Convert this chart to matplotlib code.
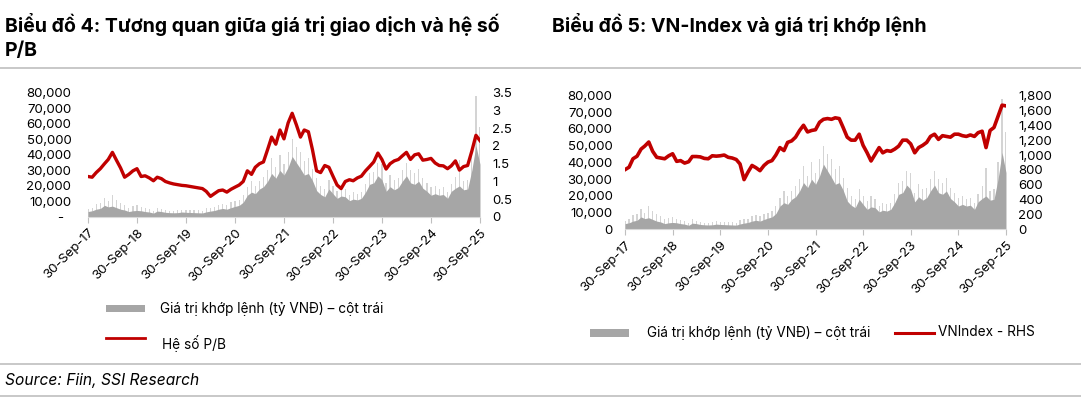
import matplotlib
matplotlib.use('Agg')
import matplotlib.pyplot as plt
import pandas as pd
from matplotlib.ticker import FixedLocator, FixedFormatter
from matplotlib.patches import Rectangle
from matplotlib.lines import Line2D

plt.rcParams['font.family'] = ['Inter', 'DejaVu Sans']

# ---------------- data (monthly, Sep-2017 .. Sep-2025) ----------------
start = pd.Timestamp('2017-09-30')
n_months = 97
months = [start + pd.offsets.MonthEnd(i) for i in range(n_months)]

# matched trading value (bn VND): monthly typical level and monthly peak day
vol_avg = [3500, 4000, 5000, 5500, 7500, 6500, 7000, 6000, 5000, 4500, 3500, 4000,
           4200, 4000, 3500, 3200, 2500, 3800, 3500, 3000, 2800, 2700, 2800, 3200,
           3000, 2900, 2800, 2700, 2600, 3300, 3800, 4200, 5000, 5500, 5000, 6000,
           6800, 7500, 9500, 14000, 16000, 15000, 18000, 19500, 23000, 28000, 25000, 30000,
           27000, 32000, 39000, 35000, 31000, 27000, 28000, 23500, 17000, 14500, 13000, 18000,
           15000, 12000, 13500, 13000, 10500, 11500, 11000, 12000, 16000, 21000, 22000, 26500,
           24000, 16500, 19500, 17500, 19000, 23000, 26500, 22000, 21000, 23000, 18500, 16500,
           14000, 15000, 14000, 14500, 12000, 16500, 18500, 20000, 17500, 18000, 30000, 46000,
           34000]
vol_peak = [5000, 6000, 8500, 9000, 12000, 10000, 14000, 11000, 9000, 8000, 6000, 7000,
            7500, 6500, 5500, 5000, 4000, 6000, 5000, 4500, 4000, 4000, 4200, 4800,
            4500, 4300, 4200, 4200, 4000, 5500, 6000, 6500, 8000, 8500, 8000, 9500,
            10000, 11000, 14000, 19000, 23000, 20000, 23000, 26000, 30000, 38000, 32000, 40000,
            34000, 42000, 50000, 45000, 42000, 36000, 38000, 31000, 25000, 20000, 18000, 24000,
            20000, 17000, 20000, 18000, 14000, 16000, 15000, 16000, 21000, 28000, 29000, 35000,
            34000, 22000, 27000, 24000, 25000, 30000, 35000, 30000, 28000, 31000, 25000, 22000,
            19000, 20000, 18000, 19000, 16000, 21000, 26000, 37000, 23000, 24000, 40000, 78000,
            58000]

# P/B ratio
pb = [1.14, 1.12, 1.25, 1.36, 1.50, 1.62, 1.82, 1.60, 1.38, 1.12, 1.20, 1.30,
      1.36, 1.14, 1.16, 1.10, 1.02, 1.12, 1.08, 1.00, 0.96, 0.93, 0.91, 0.89,
      0.88, 0.86, 0.84, 0.82, 0.80, 0.72, 0.58, 0.66, 0.74, 0.76, 0.70, 0.78,
      0.84, 0.90, 1.00, 1.30, 1.20, 1.40, 1.50, 1.55, 1.90, 2.25, 2.05, 2.45,
      2.20, 2.65, 2.92, 2.60, 2.25, 2.45, 2.40, 1.90, 1.30, 1.25, 1.45, 1.40,
      1.15, 0.90, 0.80, 1.00, 1.05, 1.02, 1.10, 1.15, 1.30, 1.42, 1.55, 1.80,
      1.62, 1.35, 1.50, 1.58, 1.62, 1.72, 1.82, 1.62, 1.75, 1.78, 1.60, 1.62,
      1.65, 1.52, 1.45, 1.44, 1.36, 1.44, 1.58, 1.32, 1.42, 1.45, 1.85, 2.30,
      2.15]

# VN-Index
vnindex = [804, 837, 950, 984, 1080, 1120, 1175, 1050, 970, 960, 950, 990,
           1017, 915, 925, 892, 910, 980, 980, 975, 955, 950, 990, 985,
           990, 1000, 970, 960, 940, 880, 670, 770, 860, 830, 790, 860,
           905, 925, 1000, 1100, 1060, 1170, 1190, 1240, 1330, 1400, 1310, 1330,
           1340, 1440, 1480, 1490, 1480, 1500, 1490, 1370, 1240, 1200, 1200, 1280,
           1130, 1030, 920, 1010, 1100, 1030, 1060, 1050, 1080, 1120, 1200, 1200,
           1150, 1030, 1100, 1130, 1170, 1250, 1280, 1210, 1260, 1250, 1240, 1280,
           1280, 1260, 1250, 1270, 1250, 1300, 1320, 1100, 1330, 1370, 1520, 1670,
           1660]

tick_years = list(range(2017, 2026))
tick_dates = [pd.Timestamp(y, 9, 30) for y in tick_years]
tick_labels = [f"30-Sep-{y % 100:02d}" for y in tick_years]

left_ticks = [0, 10000, 20000, 30000, 40000, 50000, 60000, 70000, 80000]
left_labels_a = ['-  '] + [f"{v:,}" for v in left_ticks[1:]]
left_labels_b = [f"{v:,}" for v in left_ticks]
pb_ticks = [0, 0.5, 1, 1.5, 2, 2.5, 3, 3.5]
pb_labels = ['0', '0.5', '1', '1.5', '2', '2.5', '3', '3.5']
vn_ticks = list(range(0, 2000, 200))
vn_labels = [f"{v:,}" for v in vn_ticks]

GRAY = '#a6a6a6'
LIGHT = '#d4d4d4'
RED = '#c00000'
TXT = '#000000'

fig = plt.figure(figsize=(10.81, 3.98), dpi=100)


def style_axes(ax, ax2):
    for a in (ax, ax2):
        for s in ('top', 'right', 'left'):
            a.spines[s].set_visible(False)
        a.spines['bottom'].set_color('#d9d9d9')
        a.tick_params(axis='y', length=0, labelsize=9.5, colors=TXT)
    ax2.spines['bottom'].set_visible(False)
    ax.set_xlim(pd.Timestamp('2017-09-30'), pd.Timestamp('2025-09-30'))
    ax.xaxis.set_major_locator(FixedLocator([matplotlib.dates.date2num(d) for d in tick_dates]))
    ax.xaxis.set_major_formatter(FixedFormatter(tick_labels))
    ax.tick_params(axis='x', length=4, color='#bfbfbf', labelsize=9.5, pad=3)
    for lab in ax.get_xticklabels():
        lab.set_rotation(45)
        lab.set_ha('right')
        lab.set_rotation_mode('anchor')


def draw_volume(ax):
    ax.bar(months, vol_peak, width=9, color=LIGHT, linewidth=0, zorder=1)
    ax.fill_between(months, 0, vol_avg, color=GRAY, linewidth=0, zorder=2)
    ax.set_ylim(0, 80000)
    ax.yaxis.set_major_locator(FixedLocator(left_ticks))


# ---------------- left chart ----------------
axL = fig.add_axes([0.0814, 0.4548, 0.3626, 0.3123])
axL2 = axL.twinx()
draw_volume(axL)
axL.yaxis.set_major_formatter(FixedFormatter(left_labels_a))
axL2.plot(months, pb, color=RED, lw=2.4, zorder=3)
axL2.set_ylim(0, 3.5)
axL2.yaxis.set_major_locator(FixedLocator(pb_ticks))
axL2.yaxis.set_major_formatter(FixedFormatter(pb_labels))
style_axes(axL, axL2)
axL.tick_params(axis='y', pad=12)
axL2.tick_params(axis='y', pad=9)

# ---------------- right chart ----------------
axR = fig.add_axes([0.5782, 0.4234, 0.3524, 0.3367])
axR2 = axR.twinx()
draw_volume(axR)
axR.yaxis.set_major_formatter(FixedFormatter(left_labels_b))
axR2.plot(months, vnindex, color=RED, lw=2.6, zorder=3)
axR2.set_ylim(0, 1800)
axR2.yaxis.set_major_locator(FixedLocator(vn_ticks))
axR2.yaxis.set_major_formatter(FixedFormatter(vn_labels))
style_axes(axR, axR2)
axR.tick_params(axis='y', pad=9)
axR2.tick_params(axis='y', pad=9)

# ---------------- titles, rules, source ----------------
def fy(px):
    return 1 - px / 398.0

def fx(px):
    return px / 1081.0

fig.text(fx(5), fy(32.5), "Biểu đồ 4: Tương quan giữa giá trị giao dịch và hệ số",
         fontsize=14, fontweight='bold', va='baseline', ha='left', color=TXT)
fig.text(fx(5), fy(56.5), "P/B", fontsize=14, fontweight='bold', va='baseline', ha='left', color=TXT)
fig.text(fx(552), fy(32.5), "Biểu đồ 5: VN-Index và giá trị khớp lệnh",
         fontsize=14, fontweight='bold', va='baseline', ha='left', color=TXT)

for ypx in (67.5, 363.5, 396):
    fig.add_artist(Line2D([0, 1], [fy(ypx), fy(ypx)], transform=fig.transFigure,
                          color='#bfbfbf', lw=1.2))

fig.text(fx(5), fy(380), "Source: Fiin, SSI Research", fontsize=11.2, fontstyle='italic',
         va='center', ha='left', color=TXT)

# ---------------- legends ----------------
fig.add_artist(Rectangle((fx(106), fy(312)), fx(144.6) - fx(106), fy(305) - fy(312),
                         transform=fig.transFigure, color=GRAY, lw=0))
fig.text(fx(160), fy(309), "Giá trị khớp lệnh (tỷ VNĐ) – cột trái", fontsize=9.8,
         va='center', ha='left', color=TXT)
fig.add_artist(Line2D([fx(106), fx(144.6)], [fy(337.5), fy(337.5)], transform=fig.transFigure,
                      color=RED, lw=2.0))
fig.text(fx(162), fy(344), "Hệ số P/B", fontsize=9.8, va='center', ha='left', color=TXT)

fig.add_artist(Rectangle((fx(590), fy(337)), fx(628.8) - fx(590), fy(329) - fy(337),
                         transform=fig.transFigure, color=GRAY, lw=0))
fig.text(fx(646.7), fy(332.5), "Giá trị khớp lệnh (tỷ VNĐ) – cột trái", fontsize=9.8,
         va='center', ha='left', color=TXT)
fig.add_artist(Line2D([fx(894.7), fx(933.6)], [fy(333), fy(333)], transform=fig.transFigure,
                      color=RED, lw=2.2))
fig.text(fx(937.7), fy(332.5), "VNIndex - RHS", fontsize=9.8, va='center', ha='left', color=TXT)

fig.savefig('out.png', dpi=100)
